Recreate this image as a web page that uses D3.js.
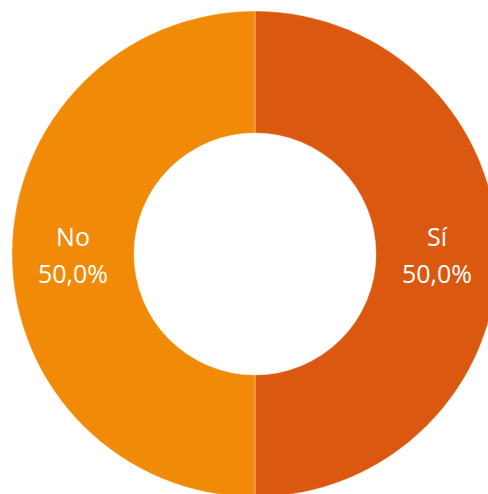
<!DOCTYPE html>
<html>
<head>
<meta charset="UTF-8">
<script src="https://d3js.org/d3.v7.min.js"></script>
<style>
  body { margin: 0; background: #fff; }
  svg { display: block; }
</style>
</head>
<body>
<div id="chart"></div>
<script>
// categories and shares (percent)
var categories = ["Sí", "No"];
var values = [50.0, 50.0];
var colors = ["#DB5810", "#F18A07"];

var width = 488, height = 494;
var cx = 255, cy = 254, outerR = 243, innerR = 121;

var svg = d3.select("#chart").append("svg")
  .attr("width", width)
  .attr("height", height);

var g = svg.append("g").attr("transform", "translate(" + cx + "," + cy + ")");

var pie = d3.pie().sort(null).value(function(d) { return d; });
var arc = d3.arc().innerRadius(innerR).outerRadius(outerR);
var labelArc = d3.arc().innerRadius((innerR + outerR) / 2).outerRadius((innerR + outerR) / 2);

var color = d3.scaleOrdinal().domain(categories).range(colors);
var fmt = function(v) { return d3.format(".1f")(v).replace(".", ",") + "%"; };

var arcs = pie(values);

g.selectAll("path")
  .data(arcs)
  .enter().append("path")
  .attr("d", arc)
  .attr("fill", function(d, i) { return color(categories[i]); })
  .attr("stroke", "#fff")
  .attr("stroke-opacity", 0.35)
  .attr("stroke-width", 1);

var lbl = g.selectAll("text")
  .data(arcs)
  .enter().append("text")
  .attr("transform", function(d) { return "translate(" + labelArc.centroid(d) + ")"; })
  .attr("text-anchor", "middle")
  .attr("fill", "#fff")
  .style("font-family", "'Open Sans', 'Liberation Sans', sans-serif")
  .style("font-size", "25px");

lbl.append("tspan").attr("x", 0).attr("y", -8).text(function(d, i) { return categories[i]; });
lbl.append("tspan").attr("x", 0).attr("y", 29).text(function(d) { return fmt(d.value); });
</script>
</body>
</html>
